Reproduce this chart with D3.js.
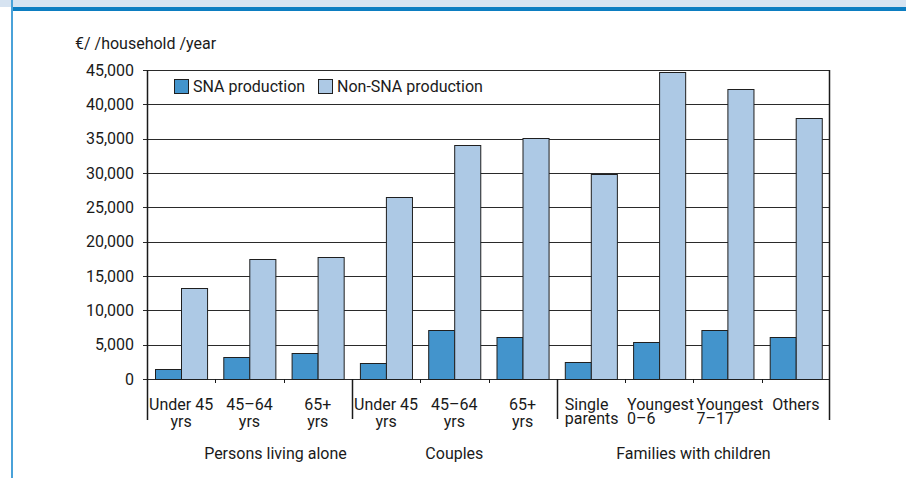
<!DOCTYPE html>
<html>
<head>
<meta charset="utf-8">
<script src="https://cdn.jsdelivr.net/npm/d3@7"></script>
<style>
  body { margin: 0; background: #fff; }
  svg text { font-family: Roboto, "Open Sans", sans-serif; fill: #1a1a1a; font-size: 16px; }
</style>
</head>
<body>
<div id="chart"></div>
<script>
// categories (two text lines each) and the group they belong to
var categories = ["Under 45 yrs a", "45–64 yrs a", "65+ yrs a", "Under 45 yrs c", "45–64 yrs c", "65+ yrs c",
  "Single parents", "Youngest 0–6", "Youngest 7–17", "Others"];
var catLines = [["Under 45", "yrs"], ["45–64", "yrs"], ["65+", "yrs"], ["Under 45", "yrs"], ["45–64", "yrs"], ["65+", "yrs"],
  ["Single", "parents"], ["Youngest", "0–6"], ["Youngest", "7–17"], ["Others"]];
var groupNames = ["Persons living alone", "Couples", "Families with children"];
var groupSizes = [3, 3, 4];

var seriesNames = ["SNA production", "Non-SNA production"];
var snaValues = [1400, 3250, 3800, 2400, 7100, 6100, 2500, 5400, 7200, 6100];
var nonSnaValues = [13200, 17500, 17800, 26500, 34100, 35100, 29900, 44700, 42300, 38000];
var yTicks = [0, 5000, 10000, 15000, 20000, 25000, 30000, 35000, 40000, 45000];

var W = 906, H = 478;
var margin = { top: 70, right: 76, bottom: 99, left: 147 },
width = W - margin.left - margin.right,
height = H - margin.top - margin.bottom;

var color = d3.scaleOrdinal().domain(seriesNames).range(["#4394cc", "#adc9e5"]);

var svg = d3.select("#chart").append("svg")
  .attr("width", W).attr("height", H);

// page decoration: header band and left rule
svg.append("rect").attr("x", 0).attr("y", 0).attr("width", W).attr("height", 7).attr("fill", "#d6e3f1");
svg.append("rect").attr("x", 11).attr("y", 7).attr("width", W - 11).attr("height", 4).attr("fill", "#0c7dc1");
svg.append("rect").attr("x", 11).attr("y", 0).attr("width", 2).attr("height", H).attr("fill", "#4aa2d9");

var g = svg.append("g").attr("transform", "translate(" + margin.left + "," + margin.top + ")");

var x0 = d3.scaleBand().domain(categories).range([0, width]);
var x1 = d3.scaleBand().domain(seriesNames).range([0, x0.bandwidth()]).paddingOuter(0.31);
var y = d3.scaleLinear().domain([0, 45000]).range([height, 0]);

// gridlines
g.append("g")
  .selectAll("line")
  .data(yTicks)
  .enter()
  .append("line")
  .attr("x1", -4).attr("x2", width)
  .attr("y1", d => Math.round(y(d)) + 0.5).attr("y2", d => Math.round(y(d)) + 0.5)
  .attr("stroke", "#2a2a2a").attr("stroke-width", 1);

// y labels
var fmt = d3.format(",");
g.append("g")
  .selectAll("text")
  .data(yTicks)
  .enter()
  .append("text")
  .attr("x", -13)
  .attr("y", d => y(d))
  .attr("dy", "0.36em")
  .attr("text-anchor", "end")
  .text(d => fmt(d));

// bars
var rows = categories.map((c, i) => ({ cat: c, values: [snaValues[i], nonSnaValues[i]] }));
g.append("g")
  .selectAll("g")
  .data(rows)
  .enter()
  .append("g")
  .attr("transform", d => "translate(" + x0(d.cat) + ",0)")
  .selectAll("rect")
  .data(d => d.values.map((v, k) => ({ key: seriesNames[k], value: v })))
  .enter()
  .append("rect")
  .attr("x", d => Math.round(x1(d.key)) + 0.5)
  .attr("y", d => Math.round(y(d.value)) + 0.5)
  .attr("width", x1.bandwidth())
  .attr("height", d => Math.round(height - y(d.value)))
  .attr("fill", d => color(d.key))
  .attr("stroke", "#1f1f1f")
  .attr("stroke-width", 1);

// left axis line and right frame
g.append("line").attr("x1", 0.5).attr("x2", 0.5).attr("y1", 0).attr("y2", height + 41)
  .attr("stroke", "#1a1a1a").attr("stroke-width", 1.5);
g.append("line").attr("x1", width - 0.5).attr("x2", width - 0.5).attr("y1", 0).attr("y2", height + 41)
  .attr("stroke", "#1a1a1a").attr("stroke-width", 1.5);

// category separators: long between groups, short within
var cum = 0, bounds = [];
groupSizes.forEach(n => { cum += n; bounds.push(cum); });
categories.forEach((c, i) => {
  if (i === 0) return;
  var isGroup = bounds.indexOf(i) >= 0;
  var xx = Math.round(x0(c)) + 0.5;
  g.append("line").attr("x1", xx).attr("x2", xx)
    .attr("y1", height).attr("y2", height + (isGroup ? 40 : 4))
    .attr("stroke", "#1a1a1a").attr("stroke-width", isGroup ? 1.5 : 1);
});

// category labels (family ones are left aligned in the original)
var leftPad = { "Single parents": 8, "Youngest 0–6": 2, "Youngest 7–17": 3 };
categories.forEach((c, i) => {
  var lines = catLines[i];
  var left = c in leftPad;
  var t = g.append("text")
    .attr("text-anchor", left ? "start" : "middle");
  var xx = left ? x0(c) + leftPad[c] : x0(c) + x0.bandwidth() / 2;
  lines.forEach((s, k) => {
    t.append("tspan").attr("x", xx).attr("y", height + 31 + k * (left ? 14 : 17)).text(s);
  });
});

// group labels
var start = 0;
groupNames.forEach((name, k) => {
  var a = x0(categories[start]);
  var b = x0(categories[start + groupSizes[k] - 1]) + x0.bandwidth();
  var dx = k === 0 ? 26 : 0;
  g.append("text")
    .attr("x", (a + b) / 2 + dx)
    .attr("y", height + 80)
    .attr("text-anchor", "middle")
    .text(name);
  start += groupSizes[k];
});

// legend
var legend = g.append("g").attr("transform", "translate(27,9)");
var lx = [0, 144];
seriesNames.forEach((s, k) => {
  legend.append("rect").attr("x", lx[k] + 0.5).attr("y", 0.5).attr("width", 14).attr("height", 14)
    .attr("fill", color(s)).attr("stroke", "#1f1f1f");
  legend.append("text").attr("x", lx[k] + 19).attr("y", 7).attr("dy", "0.36em").text(s);
});

// y axis title
svg.append("text").attr("x", 75).attr("y", 49).text("€/ /household /year");
</script>
</body>
</html>
